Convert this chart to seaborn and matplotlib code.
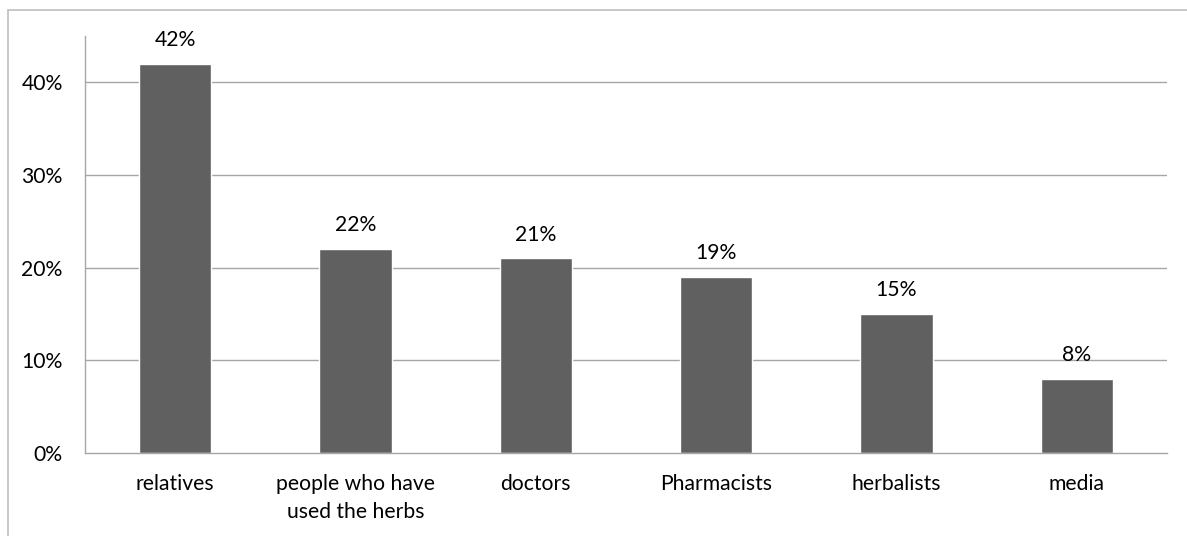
import matplotlib
matplotlib.use("Agg")
import matplotlib.pyplot as plt
from matplotlib.lines import Line2D
import seaborn as sns
import numpy as np
import pandas as pd

categories = ["relatives", "people who have\nused the herbs", "doctors", "Pharmacists", "herbalists", "media"]
values = [0.42, 0.22, 0.21, 0.19, 0.15, 0.08]
labels = ["42%", "22%", "21%", "19%", "15%", "8%"]
yticks = [0.0, 0.1, 0.2, 0.3, 0.4]
ytick_labels = ["0%", "10%", "20%", "30%", "40%"]

sns.set_style("white")
plt.rcParams['font.family'] = ['Lato', 'DejaVu Sans']

W, H = 1187, 536
FS = 15.2
fig = plt.figure(figsize=(W / 100, H / 100), dpi=100)
ax = fig.add_axes([85 / W, (H - 453) / H, (1167 - 85) / W, (453 - 36) / H])

df = pd.DataFrame({"cat": categories, "val": values})
sns.barplot(data=df, x="cat", y="val", color="#606060", width=0.4, ax=ax, saturation=1)

ax.set_ylim(0, 0.45)
ax.set_xlim(-0.5, len(categories) - 0.5)
ax.set_yticks(yticks)
ax.set_yticklabels(ytick_labels, fontsize=FS, color="#000000")
ax.set_xticks(range(len(categories)))
ax.set_xticklabels(categories, fontsize=FS, color="#000000", linespacing=1.5)
ax.set_xlabel("")
ax.set_ylabel("")

for y in yticks[1:]:
    ax.axhline(y, color="#a6a6a6", lw=1.0, zorder=0)

for s in ["top", "right"]:
    ax.spines[s].set_visible(False)
for s in ["left", "bottom"]:
    ax.spines[s].set_color("#a6a6a6")
    ax.spines[s].set_linewidth(1.0)

ax.tick_params(axis="x", which="major", length=0, pad=15)
ax.set_xticks(np.arange(-0.5, len(categories), 1.0), minor=True)
ax.tick_params(axis="x", which="minor", length=6, color="#a6a6a6", width=1)
ax.tick_params(axis="y", which="major", length=7, color="#a6a6a6", width=1, pad=9)

for i, (v, t) in enumerate(zip(values, labels)):
    ax.annotate(t, (i, v), xytext=(0, 10), textcoords="offset points",
                ha="center", va="bottom", fontsize=FS, color="#000000")

# outer chart frame (partially cropped)
fig.add_artist(Line2D([8 / W, 1.0], [1 - 10 / H, 1 - 10 / H], transform=fig.transFigure,
                      color="#bfbfbf", lw=1.2))
fig.add_artist(Line2D([8 / W, 8 / W], [0, 1 - 10 / H], transform=fig.transFigure,
                      color="#bfbfbf", lw=1.2))

fig.savefig("out.png", dpi=100, facecolor="white")
